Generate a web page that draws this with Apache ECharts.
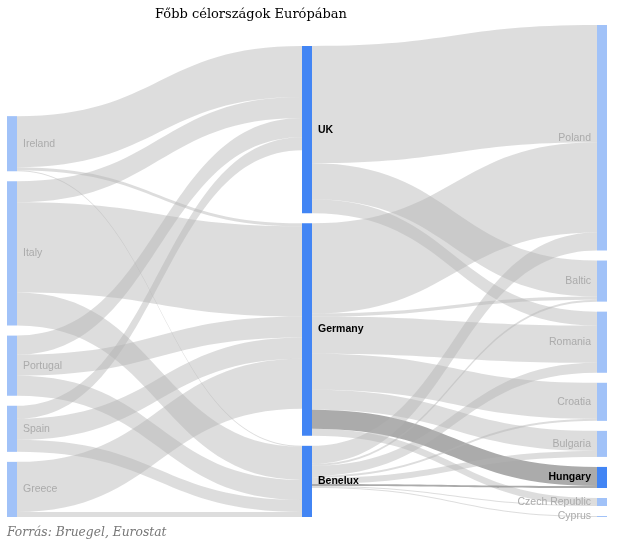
<!DOCTYPE html>
<html>
<head>
<meta charset="utf-8">
<script src="https://cdn.jsdelivr.net/npm/echarts@6/dist/echarts.min.js"></script>
<style>
html,body{margin:0;padding:0;background:#fff;}
#chart{width:622px;height:550px;}
</style>
</head>
<body>
<div id="chart"></div>
<script>
// ---- data ----
const titleText = 'Főbb célországok Európában';
const sourceNote = 'Forrás: Bruegel, Eurostat';
const sources = ['Ireland', 'Italy', 'Portugal', 'Spain', 'Greece'];
const hubs = ['UK', 'Germany', 'Benelux'];
const destinations = ['Poland', 'Baltic', 'Romania', 'Croatia', 'Bulgaria', 'Hungary', 'Czech Republic', 'Cyprus'];
// rows: sources, columns: hubs
const sourceToHub = [
  [51, 3, 1],
  [21, 90, 33],
  [19, 21, 20],
  [13, 21, 12],
  [0, 50, 5]
];
// rows: hubs, columns: destinations
const hubToDest = [
  [117, 36, 14, 0, 0, 0, 0, 0],
  [90, 3, 37, 36, 20, 19, 7, 0],
  [18, 2, 10, 2, 6, 2, 1, 1]
];
const highlighted = 'Hungary';

// ---- layout settings ----
const HEIGHT = 550;
const TOP = 25, BOTTOM = 33, LEFT = 7, RIGHT = 15;
const GAP = 10, NODE_W = 10;
const LIGHT = '#a1c2f8', STRONG = '#4285f4';

const sum = a => a.reduce((s, v) => s + v, 0);
const srcTotals = sourceToHub.map(r => sum(r));
const hubIn = hubs.map((h, j) => sum(sourceToHub.map(r => r[j])));
const hubOut = hubToDest.map(r => sum(r));
const hubTotals = hubs.map((h, j) => Math.max(hubIn[j], hubOut[j]));
const destTotals = destinations.map((d, k) => sum(hubToDest.map(r => r[k])));
const cols = [srcTotals, hubTotals, destTotals];
const H = HEIGHT - TOP - BOTTOM;
const ky = Math.min(...cols.map(c => (H - (c.length - 1) * GAP) / sum(c)));
// invisible spacers so every column ends at the same bottom line
const spacer = cols.map(c => (H - sum(c) * ky - c.length * GAP) / ky - 0.01);

const nodes = [];
const links = [];
const hiddenNode = (name, depth, value) => ({
  name, depth, value,
  itemStyle: {color: 'rgba(0,0,0,0)', borderWidth: 0},
  label: {show: false}
});
[0, 1].forEach(d => { if (spacer[d] > 0) nodes.push(hiddenNode('__spacer' + d, d, spacer[d])); });

sources.forEach(n => nodes.push({
  name: n, depth: 0, itemStyle: {color: LIGHT},
  label: {position: 'right', color: '#ababab'}
}));
hubs.forEach(n => nodes.push({
  name: n, depth: 1, itemStyle: {color: STRONG},
  label: {position: 'right', color: '#000', fontWeight: 'bold'}
}));
destinations.forEach(n => nodes.push({
  name: n, depth: 2, itemStyle: {color: n === highlighted ? STRONG : LIGHT},
  label: n === highlighted
    ? {position: 'left', color: '#000', fontWeight: 'bold'}
    : {position: 'left', color: '#ababab'}
}));

sources.forEach((s, i) => hubs.forEach((h, j) => {
  const v = sourceToHub[i][j];
  if (v > 0) links.push({source: s, target: h, value: v});
}));
hubs.forEach((h, j) => destinations.forEach((d, k) => {
  const v = hubToDest[j][k];
  if (v > 0) {
    const l = {source: h, target: d, value: v};
    if (d === highlighted) l.lineStyle = {color: '#8a8a8a', opacity: 0.72};
    links.push(l);
  }
}));

const chart = echarts.init(document.getElementById('chart'), null, {renderer: 'canvas'});
chart.setOption({
  animation: false,
  backgroundColor: '#fff',
  title: [
    {text: titleText, left: 155, top: 8, padding: 0,
     textStyle: {fontFamily: 'DejaVu Serif', fontSize: 13, fontWeight: 'normal', color: '#000'}},
    {text: sourceNote, left: 7, top: 527, padding: 0,
     textStyle: {fontFamily: 'DejaVu Serif', fontStyle: 'italic', fontSize: 12.3, fontWeight: 'normal', color: '#777'}}
  ],
  series: [{
    type: 'sankey',
    left: LEFT, right: RIGHT, top: TOP, bottom: BOTTOM,
    nodeWidth: NODE_W,
    nodeGap: GAP,
    layoutIterations: 0,
    nodeAlign: 'left',
    silent: true,
    emphasis: {disabled: true},
    label: {fontFamily: 'Liberation Sans', fontSize: 10.5, distance: 6},
    itemStyle: {borderWidth: 0},
    lineStyle: {color: '#b4b4b4', opacity: 0.45, curveness: 0.5},
    data: nodes,
    links: links
  }]
});
</script>
</body>
</html>
